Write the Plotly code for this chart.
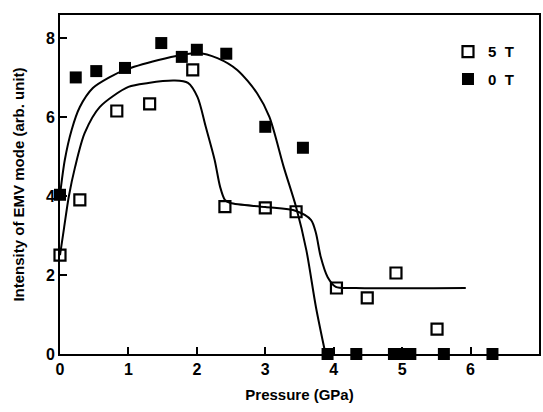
import plotly.graph_objects as go

# 5 T data (open squares)
p5 = [0.0, 0.29, 0.83, 1.31, 1.94, 2.41, 3.0, 3.45, 4.04, 4.49, 4.91, 5.51]
i5 = [2.5, 3.9, 6.15, 6.33, 7.19, 3.73, 3.7, 3.6, 1.67, 1.42, 2.05, 0.63]

# 0 T data (filled squares)
p0 = [0.0, 0.23, 0.53, 0.95, 1.48, 1.78, 2.0, 2.43, 3.0, 3.55, 3.91, 4.33, 4.88, 5.0, 5.12, 5.61, 6.32]
i0 = [4.03, 7.0, 7.16, 7.24, 7.87, 7.52, 7.7, 7.6, 5.75, 5.22, 0, 0, 0, 0, 0, 0, 0]

# guide curves
c5x = [0.0, 0.06, 0.13, 0.22, 0.36, 0.58, 1.0, 1.29, 1.68, 1.87, 2.01, 2.13, 2.26, 2.34, 2.41, 2.49, 3.0, 3.45, 3.67, 3.74, 3.81, 3.91, 4.03, 4.32, 5.93]
c5y = [2.5, 3.2, 4.0, 4.73, 5.59, 6.25, 6.76, 6.86, 6.92, 6.86, 6.5, 5.75, 4.91, 4.23, 3.9, 3.82, 3.72, 3.62, 3.39, 3.06, 2.46, 1.95, 1.7, 1.67, 1.67]
c0x = [0.0, 0.07, 0.17, 0.29, 0.48, 0.72, 0.95, 1.44, 1.77, 2.01, 2.30, 2.59, 2.88, 3.06, 3.27, 3.45, 3.6, 3.74, 3.88]
c0y = [4.03, 4.91, 5.67, 6.25, 6.73, 7.0, 7.19, 7.44, 7.57, 7.62, 7.49, 7.19, 6.6, 6.0, 4.73, 3.72, 2.63, 1.19, 0.0]

FONT = "Liberation Sans"

fig = go.Figure()
fig.add_trace(go.Scatter(x=c0x, y=c0y, mode="lines", line=dict(color="black", width=2, shape="spline", smoothing=0.8),
                         showlegend=False, hoverinfo="skip", cliponaxis=False))
fig.add_trace(go.Scatter(x=c5x, y=c5y, mode="lines", line=dict(color="black", width=2, shape="spline", smoothing=0.8),
                         showlegend=False, hoverinfo="skip", cliponaxis=False))
fig.add_trace(go.Scatter(x=p5, y=i5, mode="markers", name="5  T", legendgroup="a",
                         marker=dict(symbol="square-open", size=11, color="black", line=dict(width=2.2, color="black")),
                         cliponaxis=False))
fig.add_trace(go.Scatter(x=p0, y=i0, mode="markers", name="0  T", legendgroup="b",
                         marker=dict(symbol="square", size=12, color="black"),
                         cliponaxis=False))

fig.update_layout(
    width=543, height=412,
    margin=dict(l=60, r=2, t=15, b=58),
    paper_bgcolor="white", plot_bgcolor="white",
    font=dict(family=FONT, color="black", size=14, weight="bold"),
    legend=dict(x=0.81, y=0.94, xanchor="left", yanchor="top", bgcolor="rgba(0,0,0,0)",
                font=dict(size=15, weight="bold"), itemwidth=30, tracegroupgap=5, traceorder="grouped"),
    xaxis=dict(range=[0, 7], tickvals=[0, 1, 2, 3, 4, 5, 6, 7], ticks="inside", ticklen=7, tickwidth=2,
               tickcolor="black", showline=True, linewidth=2, linecolor="black", mirror=True,
               showgrid=False, zeroline=False,
               title=dict(text="Pressure (GPa)", font=dict(size=15, weight="bold"), standoff=12),
               tickfont=dict(size=16, weight="bold")),
    yaxis=dict(range=[0, 8.58], tickvals=[0, 2, 4, 6, 8], ticks="inside", ticklen=7, tickwidth=2,
               tickcolor="black", showline=True, linewidth=2, linecolor="black", mirror=True,
               showgrid=False, zeroline=False,
               title=dict(text="Intensity of EMV mode (arb. unit)", font=dict(size=15, weight="bold"), standoff=18),
               tickfont=dict(size=16, weight="bold")),
)

fig.write_html("out.html")
